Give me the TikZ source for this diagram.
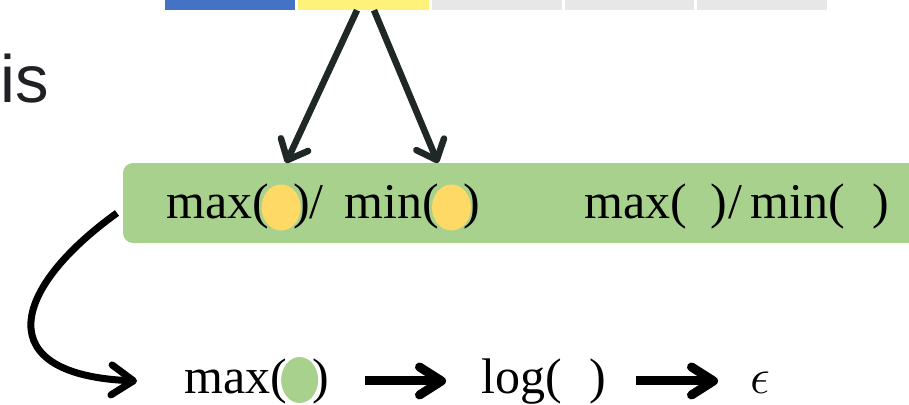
\RequirePackage{fix-cm}
\documentclass[tikz,border=0pt]{standalone}
\usepackage{fontspec}
\setmainfont{Liberation Serif}
\newfontfamily\sansis{Liberation Sans}
\usetikzlibrary{arrows.meta,shapes.geometric}
\definecolor{barblue}{HTML}{4472C4}
\definecolor{baryellow}{HTML}{FFF27A}
\definecolor{bargrey}{HTML}{E7E7E7}
\definecolor{boxgreen}{HTML}{A9D18E}
\definecolor{dotyellow}{HTML}{FFD966}
\definecolor{arrowdark}{HTML}{1F2727}
\definecolor{isgrey}{HTML}{202124}
\pgfdeclarelayer{boxlayer}
\pgfdeclarelayer{dotlayer}
\pgfsetlayers{boxlayer,dotlayer,main}
\tikzset{
  seg/.style={draw=none, inner sep=0pt, minimum height=15pt},
  greenbox/.style={fill=boxgreen, rounded corners=10pt, inner sep=0pt, minimum width=817pt, minimum height=80pt},
  txt/.style={inner sep=0pt, anchor=base west, font=\fontsize{50}{60}\selectfont},
  dot/.style={ellipse, inner sep=0pt, minimum width=39pt, minimum height=46pt},
  toparrow/.style={line width=6.5pt, draw=arrowdark, -{Straight Barb[round, length=17pt, width=30pt]}},
  bigarrow/.style={line width=9pt, draw=black, -{Straight Barb[round, length=22pt, width=28pt]}},
  curvearrow/.style={line width=7pt, draw=black, -{Straight Barb[round, length=22pt, width=30pt]}}
}
\begin{document}
\begin{tikzpicture}[x=1pt,y=-1pt]
\useasboundingbox (0,0) rectangle (909,404);
% top bar
\node[seg, fill=barblue, minimum width=130pt] (s1) at (230,2.5) {};
\node[seg, fill=baryellow, minimum width=131pt] (s2) at (363.5,2.5) {};
\node[seg, fill=bargrey, minimum width=130pt] (s3) at (497,2.5) {};
\node[seg, fill=bargrey, minimum width=129pt] (s4) at (629.5,2.5) {};
\node[seg, fill=bargrey, minimum width=130pt] (s5) at (762,2.5) {};
% "is"
\node[inner sep=0pt, anchor=base west, text=isgrey, font=\sansis\fontsize{67}{67}\selectfont] (is) at (0,102) {is};
% green box
\begin{pgfonlayer}{boxlayer}
\node[greenbox] (box) at (531.5,203) {};
\end{pgfonlayer}
% left text with yellow dots
\node[txt] (l1) at (166,218) {max(};
\node[txt] (l2) at ([xshift=24pt]l1.base east) {)/\hspace{21pt}min(};
\node[txt] (l3) at ([xshift=24pt]l2.base east) {)};
\begin{pgfonlayer}{dotlayer}
\node[dot, fill=dotyellow] (c1) at ([xshift=-12pt,yshift=10.5pt]l2.base west) {};
\node[dot, fill=dotyellow] (c2) at ([xshift=-12pt,yshift=10.5pt]l3.base west) {};
\end{pgfonlayer}
% right text
\node[txt] (r1) at (584,218) {max(\hspace{24pt})\hspace{1pt}/\hspace{8pt}min(\hspace{28pt})};
% top arrows
\coordinate (t1) at (286,163);
\coordinate (t2) at (438,163);
\draw[toparrow] ([xshift=-6.5pt]s2.south) -- (t1);
\draw[toparrow] ([xshift=10.5pt]s2.south) -- (t2);
% bottom row
\node[txt] (b1) at (184,393) {max(};
\node[txt] (b2) at ([xshift=25pt]b1.base east) {)};
\begin{pgfonlayer}{dotlayer}
\node[dot, fill=boxgreen, minimum width=37pt] (c3) at ([xshift=-12.5pt,yshift=13pt]b2.base west) {};
\end{pgfonlayer}
\node[txt] (g1) at (481,393) {log(};
\node[txt] (g2) at ([xshift=27pt]g1.base east) {)};
\node[txt] (eps) at (750,393) {$\epsilon$};
\draw[bigarrow, shorten <=36pt, shorten >=35pt] (b2.east) -- (b2.east -| g1.west);
\draw[bigarrow, shorten <=30pt, shorten >=32pt] (g2.east) -- (g2.east -| eps.west);
% curved arrow
\coordinate (cs) at (117,213);
\coordinate (ce) at ([xshift=-47pt]b1.west);
\draw[curvearrow] (cs) .. controls (10,290) and (-10,375) .. (ce);
\end{tikzpicture}
\end{document}
